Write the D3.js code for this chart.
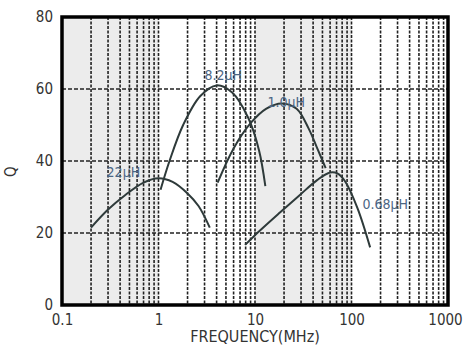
<!DOCTYPE html>
<html>
<head>
<meta charset="utf-8">
<script src="https://d3js.org/d3.v7.min.js"></script>
<style>
  body { margin: 0; background: #fff; }
  text { font-family: "DejaVu Sans Condensed", "Liberation Sans Narrow", sans-serif; }
</style>
</head>
<body>
<div class="visHolder"></div>
<script>
// data: [frequency MHz, Q]
var curve22uH = [[0.2, 21.5], [0.3, 26.5], [0.45, 30.5], [0.7, 34], [1.0, 35.2], [1.4, 34.2], [2.0, 31], [2.6, 27.5], [3.4, 21.5]];
var curve8_2uH = [[1.05, 32], [1.3, 40], [1.8, 50], [2.7, 58], [4.0, 61], [5.8, 59], [8.5, 52], [11, 43], [12.8, 33]];
var curve1_0uH = [[4.1, 34], [6, 43.5], [9, 50.5], [13, 54.5], [19, 56], [27, 54.5], [36, 49], [45, 43], [54, 38]];
var curve0_68uH = [[7.9, 16.7], [10, 19.4], [18, 25.6], [29, 30.5], [44, 34.7], [60, 36.8], [72, 36.5], [85, 34.5], [115, 27], [156, 16]];

var curveNames = ["22\u03bcH", "8.2\u03bcH", "1.0\u03bcH", "0.68\u03bcH"];
// label anchor point for each curve [frequency, Q]
var labelAt = [[0.29, 35.6], [3.0, 62.5], [13.5, 55], [130, 26.7]];

var xTicks = [0.1, 1, 10, 100, 1000];
var yTicks = [0, 20, 40, 60, 80];
var yGrid = [20, 40, 60];

var margin = { top: 17, right: 16, bottom: 40, left: 62 },
    width = 464 - margin.left - margin.right,
    height = 345 - margin.top - margin.bottom;

var svg = d3.select(".visHolder")
    .append("svg")
    .attr("width", 464)
    .attr("height", 345)
    .append("g")
    .attr("transform", `translate(${margin.left},${margin.top})`);

var x = d3.scaleLog().domain([0.1, 1000]).range([0, width]);
var y = d3.scaleLinear().domain([0, 80]).range([height, 0]);

// shaded decades
var bands = [[0.1, 1], [10, 100]];
svg.selectAll(".band")
    .data(bands)
    .enter()
    .append("rect")
    .attr("class", "band")
    .attr("x", (d) => x(d[0]))
    .attr("width", (d) => x(d[1]) - x(d[0]))
    .attr("y", 0)
    .attr("height", height)
    .style("fill", "#ececec");

// vertical dashed grid (every 1..9 step of each decade)
var vGrid = [];
for (var e = -1; e < 3; e++) {
    for (var k = 1; k < 10; k++) {
        if (e == -1 && k == 1) continue;
        vGrid.push(k * Math.pow(10, e));
    }
}
svg.selectAll(".vgrid")
    .data(vGrid)
    .enter()
    .append("line")
    .attr("class", "vgrid")
    .attr("x1", (d) => x(d))
    .attr("x2", (d) => x(d))
    .attr("y1", 0)
    .attr("y2", height)
    .style("stroke", "#222")
    .style("stroke-width", 1.6)
    .style("stroke-dasharray", "3,1.5");

svg.selectAll(".hgrid")
    .data(yGrid)
    .enter()
    .append("line")
    .attr("class", "hgrid")
    .attr("x1", 0)
    .attr("x2", width)
    .attr("y1", (d) => y(d))
    .attr("y2", (d) => y(d))
    .style("stroke", "#222")
    .style("stroke-width", 1.6)
    .style("stroke-dasharray", "4,2");

// Q curves
var line = d3.line()
    .x((d) => x(d[0]))
    .y((d) => y(d[1]))
    .curve(d3.curveCatmullRom.alpha(0.5));

var curves = [curve22uH, curve8_2uH, curve1_0uH, curve0_68uH];
svg.selectAll(".qcurve")
    .data(curves)
    .enter()
    .append("path")
    .attr("class", "qcurve")
    .attr("d", line)
    .style("fill", "none")
    .style("stroke", "#2e3a3a")
    .style("stroke-width", 2);

svg.selectAll(".qlabel")
    .data(curveNames)
    .enter()
    .append("text")
    .attr("class", "qlabel")
    .attr("x", (d, i) => x(labelAt[i][0]))
    .attr("y", (d, i) => y(labelAt[i][1]))
    .style("font-size", "14px")
    .style("fill", "#4b6584")
    .text((d) => d);

// frame
svg.append("rect")
    .attr("width", width)
    .attr("height", height)
    .style("fill", "none")
    .style("stroke", "#000")
    .style("stroke-width", 3.5);

// axes
var xAxis = svg.append("g")
    .attr("transform", `translate(0,${height})`)
    .call(d3.axisBottom(x).tickValues(xTicks).tickFormat((d) => d).tickSize(0).tickPadding(9));
var yAxis = svg.append("g")
    .call(d3.axisLeft(y).tickValues(yTicks).tickSize(0).tickPadding(9));
[xAxis, yAxis].forEach((a) => {
    a.select(".domain").remove();
    a.selectAll("text")
        .style("font-size", "15px")
        .style("font-family", "\"DejaVu Sans Condensed\", sans-serif")
        .style("fill", "#333");
});
// keep the last label inside the window
xAxis.selectAll("text").filter((d) => d == 1000).attr("dx", "-3");

svg.append("text")
    .text("FREQUENCY(MHz)")
    .attr("x", width / 2)
    .attr("y", height + 37)
    .style("text-anchor", "middle")
    .style("font-size", "16px")
    .style("fill", "#333");

svg.append("text")
    .text("Q")
    .attr("transform", `translate(${-46},${y(37)}) rotate(-90)`)
    .style("text-anchor", "middle")
    .style("font-size", "15px")
    .style("fill", "#333");
</script>
</body>
</html>
